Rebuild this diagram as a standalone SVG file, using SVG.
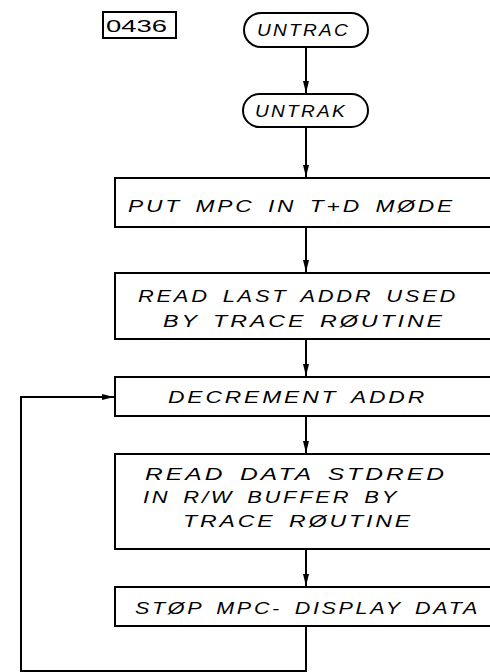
<svg xmlns="http://www.w3.org/2000/svg" width="490" height="672" viewBox="0 0 490 672">
<style>
.b{fill:#fff;stroke:#000;stroke-width:2}
.t{font-family:"Liberation Sans",Arial,sans-serif;font-style:italic;font-size:16px;letter-spacing:2px;word-spacing:3px;fill:#000}
.c{fill:none;stroke:#000;stroke-width:2}
</style>
<defs>
<marker id="a" viewBox="0 0 12 6" refX="12" refY="3" markerWidth="12" markerHeight="6" markerUnits="userSpaceOnUse" orient="auto">
<path d="M0,0 L12,3 L0,6 Z" fill="#000"/>
</marker>
</defs>
<rect width="490" height="672" fill="#fff"/>
<g id="label">
<rect class="b" x="103" y="12" width="73" height="26"/>
<text class="t" x="106" y="32" style="font-size:17px;font-style:normal;letter-spacing:0" textLength="61" lengthAdjust="spacingAndGlyphs">0436</text>
</g>
<g id="untrac">
<rect class="b" x="244" y="13" width="124" height="34" rx="17"/>
<text class="t" x="257" y="36" style="font-size:17px" textLength="93" lengthAdjust="spacingAndGlyphs">UNTRAC</text>
</g>
<g id="untrak">
<rect class="b" x="243" y="94" width="125" height="33" rx="16.5"/>
<text class="t" x="255" y="117" style="font-size:17px" textLength="92" lengthAdjust="spacingAndGlyphs">UNTRAK</text>
</g>
<g id="put">
<rect class="b" x="115" y="178" width="390" height="49"/>
<text class="t" x="128" y="212" textLength="327" lengthAdjust="spacingAndGlyphs">PUT MPC IN T+D MØDE</text>
</g>
<g id="read1">
<rect class="b" x="115" y="273" width="390" height="66"/>
<text class="t" x="138" y="302" textLength="320" lengthAdjust="spacingAndGlyphs">READ LAST ADDR USED</text>
<text class="t" x="163" y="327" textLength="282" lengthAdjust="spacingAndGlyphs">BY TRACE RØUTINE</text>
</g>
<g id="decr">
<rect class="b" x="115" y="377" width="390" height="39"/>
<text class="t" x="168" y="403" textLength="259" lengthAdjust="spacingAndGlyphs">DECREMENT ADDR</text>
</g>
<g id="read2">
<rect class="b" x="115" y="454" width="390" height="95"/>
<text class="t" x="145" y="480" textLength="302" lengthAdjust="spacingAndGlyphs">READ DATA STDRED</text>
<text class="t" x="143" y="503" textLength="256" lengthAdjust="spacingAndGlyphs">IN R/W BUFFER BY</text>
<text class="t" x="183" y="527" textLength="230" lengthAdjust="spacingAndGlyphs">TRACE RØUTINE</text>
</g>
<g id="stop">
<rect class="b" x="115" y="587" width="390" height="39"/>
<text class="t" x="135" y="614" textLength="345" lengthAdjust="spacingAndGlyphs">STØP MPC- DISPLAY DATA</text>
</g>
<g id="connectors">
<line class="c" x1="306" y1="47" x2="306" y2="93" marker-end="url(#a)"/>
<line class="c" x1="306" y1="127" x2="306" y2="177" marker-end="url(#a)"/>
<line class="c" x1="306" y1="227" x2="306" y2="272" marker-end="url(#a)"/>
<line class="c" x1="306" y1="339" x2="306" y2="376" marker-end="url(#a)"/>
<line class="c" x1="306" y1="416" x2="306" y2="453" marker-end="url(#a)"/>
<line class="c" x1="306" y1="549" x2="306" y2="586" marker-end="url(#a)"/>
<polyline class="c" points="306,626 306,671 21,671 21,397 114,397" marker-end="url(#a)"/>
</g>
</svg>
